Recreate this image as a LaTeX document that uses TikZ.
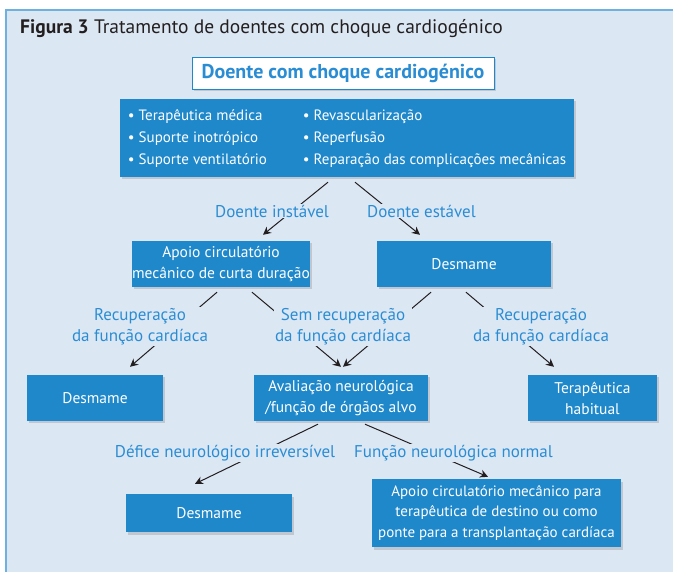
\documentclass[tikz,border=0pt]{standalone}
\usepackage{fontspec}
\setmainfont{PT Sans}
\usetikzlibrary{arrows.meta,shadows,positioning}
\definecolor{panel}{HTML}{DCE7F4}
\definecolor{rim}{HTML}{6EB0E0}
\definecolor{boxblue}{HTML}{1E88CB}
\definecolor{tagblue}{HTML}{2A8DD4}
\definecolor{ink}{HTML}{231F20}
\tikzset{
  box/.style={fill=boxblue, text=white, align=center, inner sep=0pt,
    font=\fontsize{15.5}{21}\selectfont,
    drop shadow={shadow xshift=2pt, shadow yshift=-2.5pt, opacity=0.3}},
  tag/.style={text=tagblue, fill=panel, align=center, inner sep=1pt,
    font=\fontsize{17}{21}\selectfont},
  link/.style={draw=ink, line width=1pt, -{Stealth[length=8pt,width=8pt]}}
}
\begin{document}
\begin{tikzpicture}[x=1pt, y=-1pt]
\useasboundingbox (0,0) rectangle (673,572);
\fill[panel] (6,10) rectangle (700,600);
\draw[rim, line width=2pt] (6,600) |- (700,10);
\node[anchor=base west, inner sep=0pt, text=ink, font=\fontsize{19.5}{22}\selectfont] (title) at (20,34)
  {\textbf{Figura 3} Tratamento de doentes com choque cardiogénico};
\node[box, fill=white, draw=boxblue, line width=0.8pt, text=tagblue,
  font=\fontsize{20}{22}\selectfont\bfseries, minimum width=302pt, minimum height=32pt] (doente) at (343,73)
  {Doente com choque cardiogénico};
\node[box, minimum width=454pt, minimum height=78pt, font=\fontsize{15}{22}\selectfont] (bul) at (347,138)
  {\begin{tabular}{@{}l@{}l@{}}
   \makebox[175pt][l]{• Terapêutica médica} & • Revascularização\\
   \makebox[175pt][l]{• Suporte inotrópico} & • Reperfusão\\
   \makebox[175pt][l]{• Suporte ventilatório} & • Reparação das complicações mecânicas
   \end{tabular}};
\node[box, minimum width=174pt, minimum height=46pt] (apoio) at (221,264)
  {Apoio circulatório\\mecânico de curta duração};
\node[box, minimum width=174pt, minimum height=46pt] (desR) at (464,264) {Desmame};
\node[box, minimum width=136pt, minimum height=46pt] (desL) at (95,398) {Desmame};
\node[box, minimum width=174pt, minimum height=46pt] (aval) at (341,398)
  {Avaliação neurológica\\/função de órgãos alvo};
\node[box, minimum width=129pt, minimum height=46pt] (terap) at (592.5,398)
  {Terapêutica\\habitual};
\node[box, minimum width=166pt, minimum height=38pt] (desB) at (209,513) {Desmame};
\node[box, minimum width=249pt, minimum height=68pt, font=\fontsize{15}{20.3}\selectfont] (final) at (496.5,513)
  {Apoio circulatório mecânico para\\terapêutica de destino ou como\\ponte para a transplantação cardíaca};
\draw[link] ([shift={(-19,5)}]bul.south) -- ([shift={(42,-6)}]apoio.north);
\draw[link] ([shift={(8,5)}]bul.south) -- ([shift={(-44,-6)}]desR.north);
\draw[link] ([shift={(-4,5)}]apoio.south) -- ([shift={(35,-8)}]desL.north);
\draw[link] ([shift={(31,5)}]apoio.south) -- ([shift={(0,-8)}]aval.north);
\draw[link] ([shift={(-33,5)}]desR.south) -- ([shift={(2,-8)}]aval.north);
\draw[link] ([shift={(2,5)}]desR.south) -- ([shift={(-38.5,-8)}]terap.north);
\draw[link] ([shift={(-23,3)}]aval.south) -- ([shift={(-14,-10)}]desB.north);
\draw[link] ([shift={(24,3)}]aval.south) -- ([shift={(-8.5,-2)}]final.north);
\node[tag] (instavel) at (272,211) {Doente instável};
\node[tag] (estavel) at (421.5,211) {Doente estável};
\node[tag] (recL) at (140,326.5) {Recuperação\\da função cardíaca};
\node[tag] (semrec) at (343,326.5) {Sem recuperação\\da função cardíaca};
\node[tag] (recR) at (541,326.5) {Recuperação\\da função cardíaca};
\node[tag] (defice) at (225,453) {Défice neurológico irreversível};
\node[tag] (normal) at (453.5,453) {Função neurológica normal};
\end{tikzpicture}
\end{document}
